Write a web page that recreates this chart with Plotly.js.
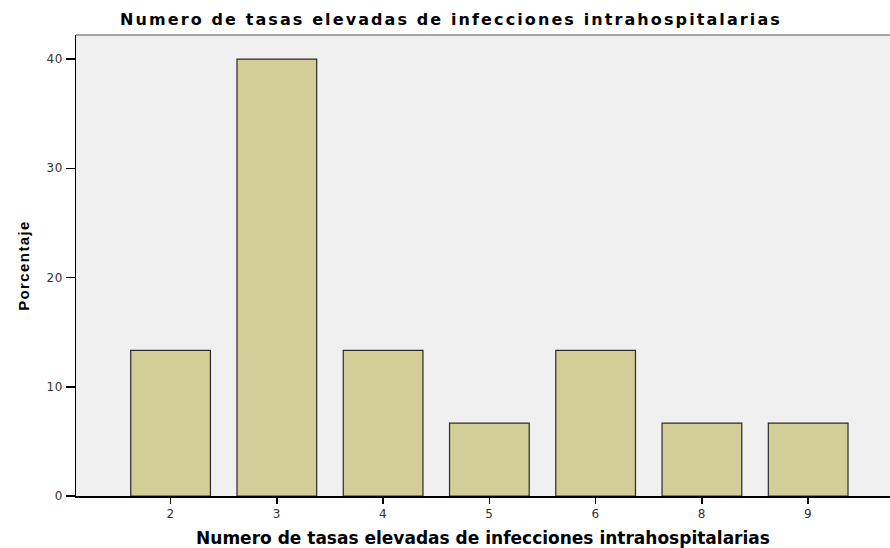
<!DOCTYPE html>
<html>
<head>
<meta charset="utf-8">
<script src="https://cdn.plot.ly/plotly-3.0.1.min.js"></script>
<style>
html,body{margin:0;padding:0;background:#fff;}
#chart{width:890px;height:548px;}
#chart .gtitle{letter-spacing:2.1px;}
#chart .ytitle{letter-spacing:1.4px;}
#chart .xtick text,#chart .ytick text{letter-spacing:0.6px;}
</style>
</head>
<body>
<div id="chart"></div>
<script>
const categories = ["2", "3", "4", "5", "6", "8", "9"];
const percentages = [13.33, 40.0, 13.33, 6.67, 13.33, 6.67, 6.67];
const yTicks = [0, 10, 20, 30, 40];

const trace = {
  type: "bar",
  x: categories,
  y: percentages,
  width: 0.75,
  marker: { color: "#d3ce98", line: { color: "#2a2a2a", width: 1.2 } },
  hoverinfo: "x+y"
};

const tickFont = { family: "DejaVu Sans, Verdana, sans-serif", size: 12, color: "#333" };

const layout = {
  width: 890,
  height: 548,
  margin: { l: 75.5, r: 0, t: 35, b: 52 },
  paper_bgcolor: "#ffffff",
  plot_bgcolor: "#f0f0f0",
  showlegend: false,
  bargap: 0.25,
  title: {
    text: "Numero de tasas elevadas de infecciones intrahospitalarias",
    font: { family: "DejaVu Sans, Verdana, sans-serif", size: 16, color: "#000", weight: "bold" },
    x: 451 / 890, xref: "container", xanchor: "center",
    y: 1 - 19.5 / 548, yref: "container", yanchor: "middle"
  },
  xaxis: {
    type: "category",
    range: [-0.89, 6.77],
    showgrid: false,
    zeroline: false,
    showline: true,
    linecolor: "#000",
    linewidth: 1.5,
    ticks: "outside",
    ticklen: 6,
    tickwidth: 1.5,
    tickcolor: "#000",
    tickfont: tickFont,
    title: {
      text: "Numero de tasas elevadas de infecciones intrahospitalarias",
      font: { family: "DejaVu Sans, Verdana, sans-serif", size: 17, color: "#000", weight: "bold" },
      standoff: 16
    }
  },
  yaxis: {
    range: [0, 42.2],
    tickvals: yTicks,
    ticktext: yTicks.map(String),
    showgrid: false,
    zeroline: false,
    showline: true,
    linecolor: "#000",
    linewidth: 1.5,
    ticks: "outside",
    ticklen: 9,
    tickwidth: 1.5,
    tickcolor: "#000",
    tickfont: tickFont,
    title: {
      text: "Porcentaje",
      font: { family: "Liberation Sans, Arial, sans-serif", size: 15, color: "#000", weight: "bold" },
      standoff: 14
    }
  },
  shapes: [
    { type: "line", xref: "paper", yref: "paper", x0: 0, x1: 1, y0: 1, y1: 1,
      line: { color: "#888", width: 1.5 } }
  ]
};

Plotly.newPlot("chart", [trace], layout, { displayModeBar: false, staticPlot: true });
</script>
</body>
</html>
